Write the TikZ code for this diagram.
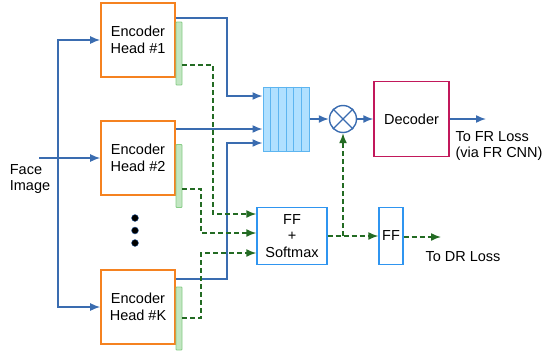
\documentclass[tikz,border=0pt]{standalone}
\usepackage{fontspec}
\setmainfont{Liberation Sans}
\usetikzlibrary{arrows.meta,calc}
\definecolor{lineblue}{HTML}{3A6CB0}
\definecolor{headorange}{HTML}{F58220}
\definecolor{barfill}{HTML}{C2E6C2}
\definecolor{barline}{HTML}{86CC86}
\definecolor{dashgreen}{HTML}{236B23}
\definecolor{buffill}{HTML}{B0E0FF}
\definecolor{bufline}{HTML}{5DB5F0}
\definecolor{ffblue}{HTML}{2F95F0}
\definecolor{deccol}{HTML}{C2185B}

\begin{document}
\begin{tikzpicture}[x=1pt,y=-1pt,
  font=\fontsize{14.5}{16.5}\selectfont,
  head/.style={draw=headorange,line width=1.6pt,fill=white,align=center,
    minimum width=74pt,minimum height=74pt,inner sep=0pt},
  bar/.style={draw=barline,fill=barfill,line width=0.8pt,rounded corners=0.8pt,
    minimum width=6pt,minimum height=63pt,inner sep=0pt},
  ffbox/.style={draw=ffblue,line width=1.4pt,align=center,inner sep=0pt},
  dot/.style={circle,fill=black,draw=lineblue,line width=0.4pt,minimum size=7pt,inner sep=0pt},
  feat/.style={-{Latex[length=10pt,width=8pt]},draw=lineblue,line width=1.5pt},
  gate/.style={-{Latex[length=10pt,width=8pt]},draw=dashgreen,line width=1.5pt,
    dash pattern=on 5pt off 3pt}]
  \useasboundingbox (0,0) rectangle (544,354);
  % input
  \node[align=left] (face) at (30,179) {Face\\Image};
  \coordinate (in) at (39,158);
  \coordinate (split) at (58,158);
  % encoder heads and their side outputs
  \node[head] (h1) at (138,40) {Encoder\\Head \#1};
  \node[head] (h2) at (138,158) {Encoder\\Head \#2};
  \node[head] (hK) at (138,307) {Encoder\\Head \#K};
  \node[bar] (bar1) at (179,53.5) {};
  \node[bar] (bar2) at (179,176) {};
  \node[bar] (barK) at (179,318.5) {};
  \foreach \y/\n in {218/1,230.5/2,243/3}
    \node[dot] (dot\n) at (135,\y) {};
  \draw[feat] (in) -- (h2);
  \draw[feat] (split) |- (h1.west);
  \draw[feat] (split) |- (hK.west);
  % feature buffer, gating and decoder
  \node[draw=bufline,fill=buffill,line width=1pt,minimum width=46pt,minimum height=64pt,
    inner sep=0pt] (buf) at (286,119) {};
  \foreach \i in {1,...,5}
    \draw[bufline,line width=1pt] ($(buf.north west)!\i/6!(buf.north east)$)
      -- ($(buf.south west)!\i/6!(buf.south east)$);
  \node[circle,draw=lineblue,line width=1.4pt,minimum size=27pt,inner sep=0pt] (mul) at (343,119) {};
  \draw[lineblue,line width=1.4pt] (mul.north west) -- (mul.south east)
    (mul.north east) -- (mul.south west);
  \node[draw=deccol,line width=1.4pt,minimum width=75pt,minimum height=75pt] (dec) at (411.5,119) {Decoder};
  \coordinate (frout) at (486,119);
  \node[anchor=west,align=left] (frloss) at (452,146) {To FR Loss\\(via FR CNN)};
  \draw[feat] (h1.east |- 0,18) -| (227,96) -- (buf.west |- 0,96);
  \draw[feat] (h2.east |- 0,129) -- (buf.west |- 0,129);
  \draw[feat] (hK.east |- 0,279) -| (227,143) -- (buf.west |- 0,143);
  \draw[feat] (buf) -- (mul);
  \draw[feat] (mul) -- (dec);
  \draw[feat] (dec) -- (frout);
  % weighting branch
  \node[ffbox,minimum width=70pt,minimum height=57pt] (soft) at (292,236) {FF\\+\\Softmax};
  \node[ffbox,minimum width=24pt,minimum height=57pt] (ff) at (391,236) {FF};
  \coordinate (drout) at (441,237);
  \node (drloss) at (463,257) {To DR Loss};
  \draw[gate] (bar1.east |- 0,65) -| (213,214) -- (soft.west |- 0,214);
  \draw[gate] (bar2.east |- 0,189) -| (201,233) -- (soft.west |- 0,233);
  \draw[gate] (barK.east |- 0,318) -| (201,253) -- (soft.west |- 0,253);
  \draw[gate] (soft) -- (ff);
  \coordinate (br) at (mul.south |- soft.east);
  \draw[gate] (br) -- (mul);
  \draw[gate] (ff.east |- drout) -- (drout);
\end{tikzpicture}
\end{document}
